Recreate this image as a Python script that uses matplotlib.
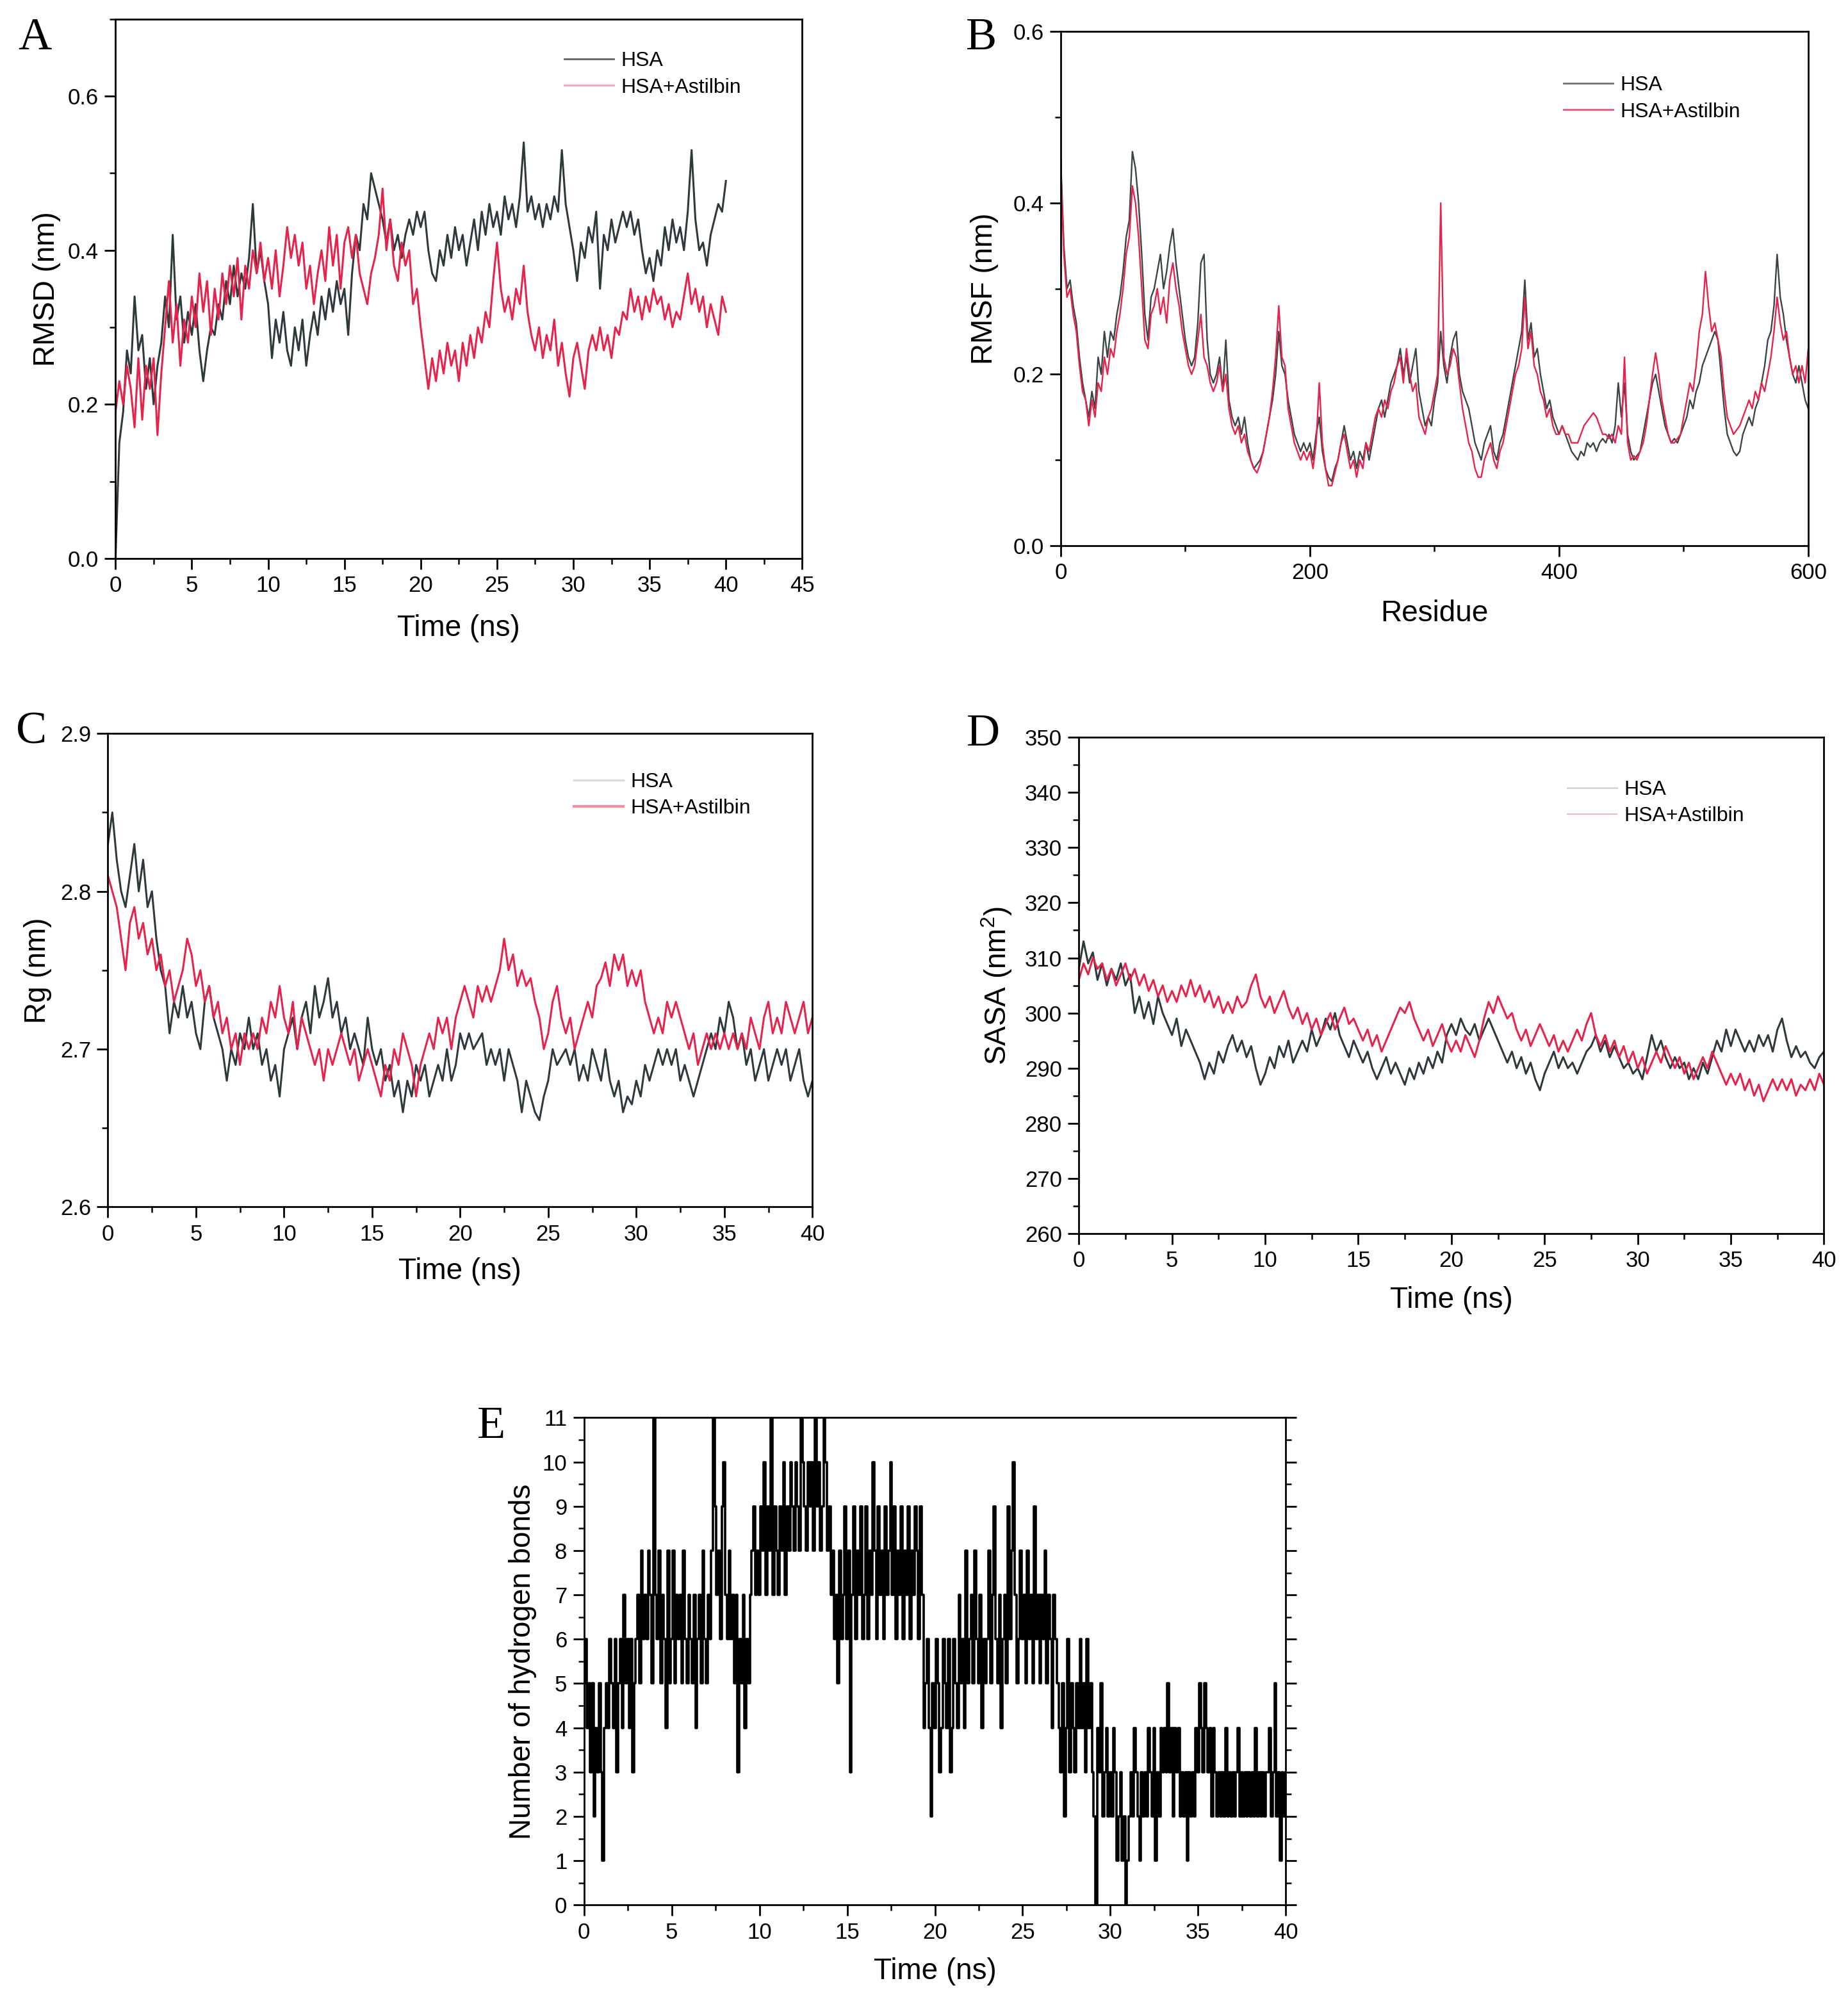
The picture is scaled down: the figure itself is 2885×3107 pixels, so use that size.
import numpy as np
import matplotlib
matplotlib.use("Agg")
import matplotlib.pyplot as plt
from matplotlib.lines import Line2D
from matplotlib.ticker import MultipleLocator

plt.rcParams['font.family'] = ['Liberation Sans', 'DejaVu Sans']
plt.rcParams['mathtext.default'] = 'regular'

# ---------------- data ----------------
# Panel A: RMSD (nm), sampled every 0.25 ns over 0-40 ns
rmsd_hsa = [0.00, 0.15, 0.19, 0.27, 0.24, 0.34, 0.27, 0.29, 0.22, 0.26, 0.20, 0.25, 0.28, 0.34, 0.30, 0.42,
            0.31, 0.34, 0.28, 0.32, 0.29, 0.33, 0.27, 0.23, 0.27, 0.30, 0.29, 0.33, 0.31, 0.36, 0.33, 0.38,
            0.34, 0.37, 0.35, 0.39, 0.46, 0.37, 0.40, 0.36, 0.33, 0.26, 0.31, 0.28, 0.32, 0.27, 0.25, 0.30,
            0.27, 0.31, 0.25, 0.29, 0.32, 0.29, 0.34, 0.31, 0.35, 0.32, 0.36, 0.33, 0.35, 0.29, 0.37, 0.42,
            0.40, 0.46, 0.44, 0.50, 0.48, 0.46, 0.44, 0.41, 0.44, 0.40, 0.42, 0.39, 0.42, 0.44, 0.42, 0.45,
            0.43, 0.45, 0.40, 0.37, 0.36, 0.40, 0.38, 0.42, 0.39, 0.43, 0.40, 0.42, 0.38, 0.41, 0.44, 0.40,
            0.45, 0.42, 0.46, 0.43, 0.45, 0.42, 0.47, 0.44, 0.46, 0.43, 0.47, 0.54, 0.45, 0.47, 0.44, 0.46,
            0.43, 0.46, 0.44, 0.47, 0.45, 0.53, 0.46, 0.43, 0.40, 0.36, 0.41, 0.39, 0.43, 0.41, 0.45, 0.35,
            0.42, 0.40, 0.44, 0.41, 0.43, 0.45, 0.43, 0.45, 0.42, 0.44, 0.40, 0.37, 0.39, 0.36, 0.40, 0.38,
            0.43, 0.40, 0.44, 0.41, 0.43, 0.40, 0.45, 0.53, 0.44, 0.40, 0.41, 0.38, 0.42, 0.44, 0.46, 0.45,
            0.49]
rmsd_ast = [0.19, 0.23, 0.20, 0.25, 0.22, 0.17, 0.26, 0.18, 0.25, 0.22, 0.26, 0.16, 0.24, 0.30, 0.36, 0.28,
            0.33, 0.25, 0.31, 0.28, 0.34, 0.30, 0.37, 0.32, 0.36, 0.29, 0.35, 0.31, 0.37, 0.33, 0.38, 0.34,
            0.39, 0.31, 0.38, 0.35, 0.40, 0.37, 0.41, 0.36, 0.39, 0.35, 0.40, 0.34, 0.38, 0.43, 0.39, 0.42,
            0.38, 0.41, 0.35, 0.38, 0.33, 0.37, 0.40, 0.36, 0.43, 0.38, 0.42, 0.35, 0.41, 0.43, 0.39, 0.42,
            0.37, 0.35, 0.33, 0.37, 0.39, 0.42, 0.48, 0.40, 0.44, 0.38, 0.36, 0.41, 0.38, 0.40, 0.33, 0.35,
            0.30, 0.26, 0.22, 0.26, 0.23, 0.27, 0.24, 0.28, 0.25, 0.27, 0.23, 0.28, 0.25, 0.29, 0.26, 0.30,
            0.28, 0.32, 0.30, 0.36, 0.41, 0.35, 0.32, 0.34, 0.31, 0.35, 0.33, 0.38, 0.32, 0.29, 0.27, 0.30,
            0.26, 0.29, 0.27, 0.31, 0.25, 0.28, 0.24, 0.21, 0.26, 0.28, 0.25, 0.22, 0.27, 0.29, 0.27, 0.30,
            0.27, 0.29, 0.26, 0.30, 0.29, 0.32, 0.31, 0.35, 0.32, 0.34, 0.31, 0.34, 0.32, 0.35, 0.33, 0.34,
            0.31, 0.33, 0.30, 0.32, 0.31, 0.34, 0.37, 0.33, 0.35, 0.32, 0.34, 0.30, 0.33, 0.31, 0.29, 0.34,
            0.32]

# Panel B: RMSF (nm), residues 0-600 every 2.5 residues
rmsf_hsa = [0.45, 0.35, 0.30, 0.31, 0.28, 0.26, 0.22, 0.19, 0.17, 0.15, 0.18, 0.16, 0.22, 0.20, 0.25, 0.22,
            0.25, 0.24, 0.27, 0.29, 0.32, 0.36, 0.38, 0.46, 0.44, 0.40, 0.34, 0.27, 0.24, 0.29, 0.30, 0.32,
            0.34, 0.30, 0.32, 0.35, 0.37, 0.33, 0.30, 0.27, 0.24, 0.22, 0.21, 0.22, 0.26, 0.33, 0.34, 0.24,
            0.20, 0.19, 0.20, 0.22, 0.18, 0.24, 0.17, 0.15, 0.14, 0.15, 0.13, 0.15, 0.12, 0.10, 0.09, 0.095,
            0.10, 0.11, 0.13, 0.15, 0.17, 0.20, 0.25, 0.21, 0.20, 0.17, 0.15, 0.13, 0.12, 0.11, 0.12, 0.11,
            0.12, 0.10, 0.13, 0.15, 0.11, 0.09, 0.08, 0.075, 0.09, 0.10, 0.12, 0.14, 0.12, 0.10, 0.11, 0.09,
            0.11, 0.10, 0.12, 0.10, 0.12, 0.14, 0.16, 0.17, 0.15, 0.17, 0.19, 0.20, 0.21, 0.23, 0.20, 0.22,
            0.19, 0.21, 0.23, 0.18, 0.16, 0.14, 0.15, 0.14, 0.17, 0.19, 0.25, 0.21, 0.19, 0.22, 0.24, 0.25,
            0.20, 0.18, 0.17, 0.16, 0.14, 0.12, 0.11, 0.10, 0.12, 0.13, 0.14, 0.11, 0.10, 0.12, 0.13, 0.15,
            0.17, 0.19, 0.21, 0.23, 0.25, 0.31, 0.24, 0.26, 0.22, 0.23, 0.20, 0.18, 0.16, 0.17, 0.15, 0.14,
            0.13, 0.14, 0.13, 0.12, 0.11, 0.105, 0.10, 0.11, 0.105, 0.12, 0.115, 0.12, 0.11, 0.12, 0.125, 0.12,
            0.13, 0.12, 0.14, 0.19, 0.15, 0.19, 0.13, 0.11, 0.10, 0.105, 0.11, 0.13, 0.15, 0.17, 0.19, 0.20,
            0.18, 0.16, 0.14, 0.13, 0.12, 0.125, 0.12, 0.13, 0.14, 0.15, 0.17, 0.16, 0.18, 0.19, 0.21, 0.22,
            0.23, 0.24, 0.25, 0.24, 0.20, 0.16, 0.13, 0.12, 0.11, 0.105, 0.11, 0.13, 0.14, 0.15, 0.14, 0.16,
            0.17, 0.19, 0.21, 0.24, 0.25, 0.28, 0.34, 0.29, 0.27, 0.24, 0.22, 0.20, 0.19, 0.21, 0.19, 0.17,
            0.16]
rmsf_ast = [0.44, 0.34, 0.29, 0.30, 0.27, 0.25, 0.21, 0.18, 0.17, 0.14, 0.17, 0.15, 0.19, 0.18, 0.22, 0.20,
            0.23, 0.22, 0.25, 0.27, 0.30, 0.34, 0.36, 0.42, 0.40, 0.36, 0.30, 0.24, 0.23, 0.27, 0.28, 0.30,
            0.27, 0.29, 0.26, 0.31, 0.33, 0.30, 0.28, 0.25, 0.23, 0.21, 0.20, 0.21, 0.24, 0.27, 0.22, 0.21,
            0.19, 0.18, 0.19, 0.21, 0.18, 0.20, 0.16, 0.14, 0.13, 0.14, 0.12, 0.13, 0.11, 0.10, 0.09, 0.085,
            0.095, 0.11, 0.13, 0.15, 0.18, 0.22, 0.28, 0.22, 0.21, 0.16, 0.14, 0.12, 0.11, 0.10, 0.11, 0.10,
            0.11, 0.09, 0.12, 0.19, 0.12, 0.09, 0.07, 0.07, 0.085, 0.10, 0.12, 0.13, 0.11, 0.09, 0.10, 0.08,
            0.10, 0.09, 0.12, 0.11, 0.13, 0.15, 0.16, 0.15, 0.17, 0.16, 0.18, 0.19, 0.21, 0.22, 0.19, 0.23,
            0.20, 0.18, 0.19, 0.15, 0.14, 0.13, 0.15, 0.16, 0.18, 0.20, 0.40, 0.22, 0.20, 0.21, 0.23, 0.22,
            0.19, 0.16, 0.14, 0.12, 0.11, 0.09, 0.08, 0.08, 0.10, 0.11, 0.12, 0.10, 0.09, 0.11, 0.12, 0.14,
            0.16, 0.18, 0.20, 0.21, 0.23, 0.29, 0.23, 0.25, 0.21, 0.20, 0.18, 0.17, 0.15, 0.16, 0.14, 0.13,
            0.13, 0.14, 0.13, 0.13, 0.12, 0.12, 0.12, 0.13, 0.14, 0.145, 0.15, 0.155, 0.15, 0.14, 0.13, 0.13,
            0.125, 0.13, 0.12, 0.14, 0.13, 0.22, 0.12, 0.10, 0.105, 0.10, 0.11, 0.12, 0.14, 0.17, 0.20, 0.225,
            0.20, 0.17, 0.15, 0.13, 0.12, 0.12, 0.125, 0.13, 0.15, 0.17, 0.19, 0.18, 0.21, 0.25, 0.27, 0.32,
            0.28, 0.25, 0.26, 0.24, 0.22, 0.18, 0.15, 0.14, 0.13, 0.135, 0.14, 0.15, 0.16, 0.17, 0.16, 0.18,
            0.17, 0.19, 0.18, 0.20, 0.22, 0.25, 0.29, 0.26, 0.24, 0.25, 0.22, 0.20, 0.21, 0.19, 0.21, 0.19,
            0.23]

# Panel C: Rg (nm), every 0.25 ns
rg_hsa = [2.83, 2.85, 2.82, 2.80, 2.79, 2.81, 2.83, 2.80, 2.82, 2.79, 2.80, 2.77, 2.75, 2.74, 2.71, 2.73,
          2.72, 2.74, 2.72, 2.73, 2.71, 2.70, 2.73, 2.74, 2.72, 2.71, 2.70, 2.68, 2.70, 2.69, 2.71, 2.70,
          2.72, 2.70, 2.71, 2.69, 2.70, 2.68, 2.69, 2.67, 2.70, 2.71, 2.72, 2.70, 2.72, 2.73, 2.71, 2.74,
          2.72, 2.73, 2.745, 2.72, 2.73, 2.71, 2.72, 2.70, 2.71, 2.70, 2.69, 2.72, 2.70, 2.69, 2.70, 2.68,
          2.69, 2.67, 2.68, 2.66, 2.68, 2.67, 2.69, 2.68, 2.69, 2.67, 2.68, 2.69, 2.68, 2.70, 2.68, 2.69,
          2.71, 2.70, 2.71, 2.70, 2.705, 2.71, 2.69, 2.70, 2.69, 2.70, 2.68, 2.70, 2.69, 2.68, 2.66, 2.68,
          2.67, 2.66, 2.655, 2.67, 2.68, 2.70, 2.69, 2.695, 2.70, 2.69, 2.70, 2.68, 2.69, 2.68, 2.70, 2.69,
          2.68, 2.70, 2.68, 2.67, 2.68, 2.66, 2.67, 2.665, 2.68, 2.67, 2.69, 2.68, 2.69, 2.70, 2.69, 2.70,
          2.69, 2.70, 2.68, 2.69, 2.68, 2.67, 2.68, 2.69, 2.70, 2.71, 2.70, 2.72, 2.71, 2.73, 2.72, 2.70,
          2.71, 2.69, 2.70, 2.68, 2.69, 2.70, 2.68, 2.69, 2.70, 2.69, 2.70, 2.68, 2.69, 2.70, 2.68, 2.67,
          2.68]
rg_ast = [2.81, 2.80, 2.79, 2.77, 2.75, 2.78, 2.79, 2.77, 2.78, 2.76, 2.77, 2.75, 2.76, 2.74, 2.75, 2.73,
          2.74, 2.75, 2.77, 2.76, 2.74, 2.75, 2.73, 2.74, 2.72, 2.73, 2.71, 2.72, 2.70, 2.71, 2.69, 2.71,
          2.70, 2.71, 2.70, 2.72, 2.71, 2.73, 2.72, 2.74, 2.72, 2.71, 2.73, 2.70, 2.72, 2.71, 2.70, 2.69,
          2.70, 2.68, 2.70, 2.69, 2.70, 2.71, 2.70, 2.69, 2.70, 2.68, 2.69, 2.70, 2.69, 2.68, 2.67, 2.69,
          2.68, 2.70, 2.69, 2.71, 2.70, 2.69, 2.67, 2.69, 2.70, 2.71, 2.70, 2.72, 2.71, 2.72, 2.70, 2.72,
          2.73, 2.74, 2.73, 2.72, 2.74, 2.73, 2.74, 2.73, 2.74, 2.75, 2.77, 2.75, 2.76, 2.74, 2.75, 2.74,
          2.745, 2.73, 2.72, 2.70, 2.71, 2.73, 2.74, 2.72, 2.71, 2.72, 2.70, 2.71, 2.72, 2.73, 2.72, 2.74,
          2.745, 2.755, 2.74, 2.76, 2.75, 2.76, 2.74, 2.75, 2.74, 2.75, 2.73, 2.72, 2.71, 2.72, 2.71, 2.73,
          2.72, 2.73, 2.72, 2.71, 2.70, 2.71, 2.69, 2.70, 2.71, 2.70, 2.71, 2.70, 2.71, 2.70, 2.71, 2.70,
          2.71, 2.70, 2.72, 2.71, 2.70, 2.72, 2.73, 2.71, 2.72, 2.71, 2.73, 2.72, 2.71, 2.72, 2.73, 2.71,
          2.72]

# Panel D: SASA (nm^2), every 0.25 ns
sasa_hsa = [308, 313, 309, 311, 306, 309, 305, 308, 306, 309, 305, 307, 300, 303, 299, 302,
            298, 303, 300, 298, 296, 299, 294, 297, 295, 293, 291, 288, 291, 289, 293, 291,
            294, 296, 293, 295, 292, 294, 290, 287, 289, 292, 290, 294, 292, 295, 291, 293,
            295, 293, 297, 294, 296, 299, 297, 300, 296, 294, 292, 295, 293, 291, 293, 290,
            288, 290, 292, 289, 291, 289, 287, 290, 288, 291, 289, 292, 290, 293, 291, 296,
            298, 296, 299, 297, 296, 298, 295, 297, 299, 297, 295, 293, 291, 293, 290, 292,
            289, 291, 288, 286, 289, 291, 293, 290, 292, 290, 291, 289, 291, 293, 294, 296,
            293, 295, 292, 294, 292, 290, 291, 289, 290, 288, 292, 296, 293, 295, 292, 290,
            292, 290, 291, 288, 290, 288, 291, 289, 292, 295, 293, 297, 294, 297, 295, 293,
            295, 293, 296, 294, 296, 293, 297, 299, 295, 292, 294, 292, 293, 291, 290, 292,
            293]
sasa_ast = [306, 309, 307, 310, 308, 309, 306, 308, 305, 307, 309, 306, 308, 305, 307, 304,
            306, 303, 305, 302, 304, 302, 305, 303, 306, 303, 305, 302, 304, 301, 303, 300,
            302, 300, 303, 301, 302, 305, 307, 303, 301, 303, 300, 302, 304, 301, 299, 301,
            298, 300, 297, 299, 296, 298, 300, 297, 299, 301, 298, 299, 297, 295, 297, 294,
            296, 293, 295, 297, 299, 301, 300, 302, 299, 297, 295, 297, 294, 296, 298, 295,
            293, 295, 293, 296, 294, 292, 295, 299, 302, 300, 303, 301, 299, 300, 297, 295,
            297, 294, 296, 298, 296, 294, 296, 293, 295, 293, 295, 297, 295, 298, 300, 296,
            294, 296, 293, 295, 292, 294, 291, 293, 290, 292, 289, 291, 293, 291, 294, 292,
            290, 292, 289, 291, 288, 290, 292, 290, 293, 291, 289, 287, 289, 287, 289, 286,
            288, 285, 287, 284, 286, 288, 286, 288, 286, 288, 285, 287, 286, 288, 286, 289,
            287]

# Panel E: number of hydrogen bonds, every 0.1 ns
hbonds = [5, 6, 4, 5, 3, 5, 2, 4, 3, 5,
          3, 1, 4, 5, 4, 6, 5, 4, 6, 3,
          5, 6, 4, 7, 5, 6, 4, 6, 3, 5,
          6, 7, 5, 8, 6, 7, 6, 8, 7, 5,
          11, 7, 6, 8, 5, 7, 6, 4, 8, 5,
          6, 8, 5, 7, 6, 7, 5, 8, 6, 5,
          7, 6, 5, 7, 4, 6, 7, 5, 8, 6,
          5, 7, 6, 8, 11, 9, 7, 8, 6, 9,
          10, 7, 6, 8, 6, 7, 5, 7, 3, 6,
          5, 7, 4, 6, 5, 7, 8, 9, 7, 8,
          7, 9, 8, 10, 7, 9, 8, 11, 7, 9,
          8, 7, 9, 8, 10, 7, 9, 8, 10, 9,
          8, 10, 9, 8, 11, 10, 9, 8, 10, 9,
          10, 8, 11, 9, 10, 8, 9, 11, 10, 8,
          9, 7, 8, 6, 7, 5, 8, 6, 7, 9,
          6, 8, 3, 7, 9, 6, 8, 7, 9, 6,
          7, 9, 6, 8, 7, 10, 8, 6, 9, 7,
          8, 6, 9, 7, 8, 10, 7, 9, 6, 8,
          7, 9, 6, 8, 7, 9, 6, 8, 7, 9,
          8, 6, 9, 7, 4, 5, 6, 4, 2, 5,
          4, 6, 5, 3, 4, 6, 5, 4, 6, 3,
          4, 6, 5, 4, 7, 5, 6, 4, 8, 5,
          6, 7, 5, 8, 6, 5, 7, 4, 6, 5,
          6, 8, 5, 7, 9, 6, 5, 7, 4, 6,
          7, 5, 9, 6, 8, 10, 7, 5, 6, 8,
          6, 7, 5, 8, 6, 7, 5, 9, 6, 7,
          5, 7, 6, 8, 5, 7, 6, 4, 7, 6,
          5, 4, 3, 5, 2, 4, 6, 3, 5, 4,
          3, 5, 4, 6, 4, 5, 3, 6, 4, 5,
          3, 2, 0, 4, 3, 5, 2, 3, 4, 2,
          3, 2, 4, 3, 1, 2, 3, 1, 2, 0,
          1, 2, 3, 2, 4, 3, 2, 1, 3, 2,
          3, 2, 4, 3, 2, 4, 1, 3, 2, 4,
          3, 4, 3, 5, 3, 4, 2, 4, 3, 4,
          2, 3, 2, 3, 1, 3, 2, 3, 2, 4,
          3, 5, 4, 3, 5, 4, 3, 4, 2, 4,
          3, 2, 3, 2, 3, 2, 4, 2, 3, 2,
          3, 2, 3, 4, 2, 3, 2, 3, 2, 3,
          2, 3, 2, 4, 2, 3, 2, 3, 2, 3,
          3, 4, 2, 3, 5, 2, 3, 1, 3, 2,
          3]

labels = ["HSA", "HSA+Astilbin"]

# ---------------- styling ----------------
C_GRAY = '#2e393c'
C_RED = '#e8234b'
TICK_FS = 25
LABEL_FS = 33
LEG_FS = 23
LETTER_FS = 52

fig = plt.figure(figsize=(28.85, 31.07), dpi=100)

def style_axes(ax, xmaj, xmin, ymaj, ymin):
    for s in ax.spines.values():
        s.set_linewidth(2.0)
    ax.xaxis.set_major_locator(MultipleLocator(xmaj))
    ax.xaxis.set_minor_locator(MultipleLocator(xmin))
    ax.yaxis.set_major_locator(MultipleLocator(ymaj))
    ax.yaxis.set_minor_locator(MultipleLocator(ymin))
    ax.tick_params(which='major', direction='out', length=12, width=2.0, pad=7,
                   labelsize=TICK_FS)
    ax.tick_params(which='minor', direction='out', length=6.5, width=1.8)

def add_legend(ax, colors, anchor, lws=(2.0, 2.0)):
    handles = [Line2D([], [], color=colors[0], lw=lws[0]),
               Line2D([], [], color=colors[1], lw=lws[1])]
    ax.legend(handles, labels, loc='upper left', bbox_to_anchor=anchor, frameon=False,
              fontsize=LEG_FS, handlelength=2.4, handletextpad=0.35, labelspacing=0.35,
              borderaxespad=0.0)

def letter(x, y, s):
    fig.text(x, y, s, fontsize=LETTER_FS, family=['Liberation Serif', 'DejaVu Serif'],
             ha='center', va='center')

# Panel A
axA = fig.add_axes([0.0625, 0.7194, 0.3716, 0.2710])
tA1 = np.linspace(0, 40, len(rmsd_hsa))
tA2 = np.linspace(0, 40, len(rmsd_ast))
axA.plot(tA1, rmsd_hsa, color=C_GRAY, lw=2.2)
axA.plot(tA2, rmsd_ast, color=C_RED, lw=2.2)
axA.set_xlim(0, 45)
axA.set_ylim(0, 0.7)
style_axes(axA, 5, 2.5, 0.2, 0.1)
axA.set_xlabel("Time (ns)", fontsize=LABEL_FS, labelpad=20)
axA.set_ylabel("RMSD (nm)", fontsize=LABEL_FS, labelpad=8)
add_legend(axA, ('#5c6468', '#f7a6b4'), (0.642, 0.955))
letter(0.019, 0.981, "A")

# Panel B
axB = fig.add_axes([0.574, 0.7258, 0.4045, 0.2583])
rB1 = np.linspace(0, 600, len(rmsf_hsa))
rB2 = np.linspace(0, 600, len(rmsf_ast))
axB.plot(rB1, rmsf_hsa, color='#3b4447', lw=1.7)
axB.plot(rB2, rmsf_ast, color=C_RED, lw=1.7)
axB.set_xlim(0, 600)
axB.set_ylim(0, 0.6)
style_axes(axB, 200, 100, 0.2, 0.1)
axB.set_xlabel("Residue", fontsize=LABEL_FS, labelpad=18)
axB.set_ylabel("RMSF (nm)", fontsize=LABEL_FS, labelpad=16)
add_legend(axB, ('#6b7275', '#ee5570'), (0.662, 0.93))
letter(0.531, 0.981, "B")

# Panel C
axC = fig.add_axes([0.0584, 0.3935, 0.3812, 0.2379])
tC1 = np.linspace(0, 40, len(rg_hsa))
tC2 = np.linspace(0, 40, len(rg_ast))
axC.plot(tC1, rg_hsa, color=C_GRAY, lw=2.2)
axC.plot(tC2, rg_ast, color=C_RED, lw=2.2)
axC.set_xlim(0, 40)
axC.set_ylim(2.6, 2.9)
style_axes(axC, 5, 2.5, 0.1, 0.05)
axC.set_xlabel("Time (ns)", fontsize=LABEL_FS, labelpad=14)
axC.set_ylabel("Rg (nm)", fontsize=LABEL_FS, labelpad=9)
add_legend(axC, ('#d9dcdd', '#f58aa0'), (0.65, 0.935), lws=(2.5, 3.0))
letter(0.017, 0.632, "C")

# Panel D
axD = fig.add_axes([0.5838, 0.3801, 0.4032, 0.2494])
tD1 = np.linspace(0, 40, len(sasa_hsa))
tD2 = np.linspace(0, 40, len(sasa_ast))
axD.plot(tD1, sasa_hsa, color=C_GRAY, lw=2.2)
axD.plot(tD2, sasa_ast, color=C_RED, lw=2.2)
axD.set_xlim(0, 40)
axD.set_ylim(260, 350)
style_axes(axD, 5, 2.5, 10, 5)
axD.set_xlabel("Time (ns)", fontsize=LABEL_FS, labelpad=16)
axD.set_ylabel("SASA (nm$^2$)", fontsize=LABEL_FS, labelpad=12)
add_legend(axD, ('#d5d8d9', '#f7b4c0'), (0.645, 0.93), lws=(2.0, 1.5))
letter(0.532, 0.631, "D")

# Panel E
axE = fig.add_axes([0.316, 0.0427, 0.3798, 0.2449])
tE = np.linspace(0, 40, len(hbonds))
axE.plot(tE, hbonds, color='black', lw=2.6, drawstyle='steps-mid')
axE.set_xlim(0, 40)
axE.set_ylim(0, 11)
style_axes(axE, 5, 2.5, 1, 0.5)
axE.tick_params(axis='y', which='both', right=True)
axE.set_xlabel("Time (ns)", fontsize=LABEL_FS, labelpad=16)
axE.set_ylabel("Number of hydrogen bonds", fontsize=LABEL_FS, labelpad=6)
letter(0.266, 0.283, "E")

fig.savefig("out.png", dpi=100)
